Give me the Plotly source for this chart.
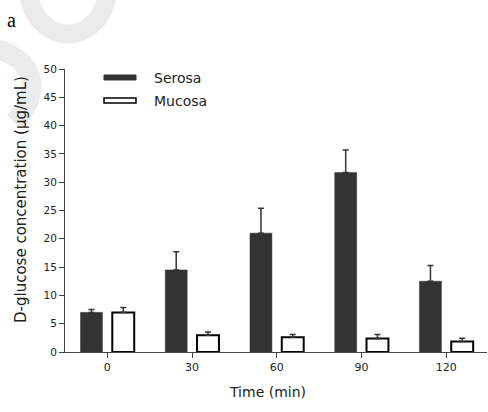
import plotly.graph_objects as go

categories = ["0", "30", "60", "90", "120"]
serosa = [7.0, 14.5, 21.0, 31.7, 12.5]
serosa_err = [0.5, 3.2, 4.4, 4.0, 2.8]
mucosa = [7.0, 2.95, 2.6, 2.4, 1.85]
mucosa_err = [0.85, 0.6, 0.5, 0.7, 0.6]
zeros = [0, 0, 0, 0, 0]

FONT = "DejaVu Sans"
DARK = "#333333"

fig = go.Figure()
fig.add_trace(go.Bar(
    x=categories, y=serosa, name="Serosa",
    marker=dict(color=DARK, line=dict(color=DARK, width=0.5)),
    error_y=dict(type="data", symmetric=False, array=serosa_err, arrayminus=zeros,
                 color=DARK, thickness=1.5, width=3),
    showlegend=False,
))
fig.add_trace(go.Bar(
    x=categories, y=mucosa, name="Mucosa",
    marker=dict(color="white", line=dict(color="black", width=2)),
    error_y=dict(type="data", symmetric=False, array=mucosa_err, arrayminus=zeros,
                 color=DARK, thickness=1.5, width=3),
    showlegend=False,
))

L, R, T, B = 65, 1, 69, 60
W, H = 488, 412
pw, ph = W - L - R, H - T - B

def px(x):
    return (x - L) / pw

def py(y):
    return (H - B - y) / ph

WM = "#ebebeb"
shapes = [
    # faint watermark strokes
    dict(type="path", xref="paper", yref="paper", layer="below",
         path=f"M {px(28)},{py(-8)} C {px(36)},{py(48)} {px(100)},{py(48)} {px(108)},{py(-8)}",
         line=dict(color=WM, width=19)),
    dict(type="path", xref="paper", yref="paper", layer="below",
         path=f"M {px(-8)},{py(48)} C {px(38)},{py(58)} {px(42)},{py(95)} {px(14)},{py(122)}",
         line=dict(color=WM, width=20)),
    # legend swatches
    dict(type="rect", xref="paper", yref="paper",
         x0=px(104), x1=px(136), y0=py(80), y1=py(75),
         fillcolor=DARK, line=dict(color=DARK, width=1)),
    dict(type="rect", xref="paper", yref="paper",
         x0=px(104), x1=px(136), y0=py(103), y1=py(98),
         fillcolor="white", line=dict(color="black", width=1.5)),
]

annotations = [
    dict(text="Serosa", xref="paper", yref="paper", x=px(152), y=py(78),
         xanchor="left", yanchor="middle", showarrow=False,
         font=dict(family=FONT, size=14, color="#222")),
    dict(text="Mucosa", xref="paper", yref="paper", x=px(152), y=py(101),
         xanchor="left", yanchor="middle", showarrow=False,
         font=dict(family=FONT, size=14, color="#222")),
    dict(text="Time (min)", xref="paper", yref="paper", x=px(267), y=py(392),
         xanchor="center", yanchor="middle", showarrow=False,
         font=dict(family=FONT, size=14, color="#222")),
    dict(text="D-glucose concentration (μg/mL)", xref="paper", yref="paper",
         x=px(21), y=py(200), textangle=-90,
         xanchor="center", yanchor="middle", showarrow=False,
         font=dict(family=FONT, size=15, color="#222")),
    dict(text="a", xref="paper", yref="paper", x=px(11), y=py(20),
         xanchor="center", yanchor="middle", showarrow=False,
         font=dict(family="Liberation Serif", size=20, color="black")),
]

fig.update_layout(
    width=W, height=H,
    margin=dict(l=L, r=R, t=T, b=B, pad=0),
    paper_bgcolor="white", plot_bgcolor="white",
    barmode="group", bargap=0.25, bargroupgap=0.31,
    shapes=shapes, annotations=annotations,
    font=dict(family=FONT, size=11, color="#222"),
)
fig.update_xaxes(
    type="category", range=[-0.5, 4.48],
    showline=True, linecolor="#444", linewidth=1,
    ticks="outside", ticklen=5, tickcolor="#444", tickwidth=1,
    showgrid=False, zeroline=False,
    tickfont=dict(family=FONT, size=11, color="#222"),
)
fig.update_yaxes(
    range=[0, 50], tickvals=[0, 5, 10, 15, 20, 25, 30, 35, 40, 45, 50],
    showline=True, linecolor="#444", linewidth=1,
    ticks="outside", ticklen=5, tickcolor="#444", tickwidth=1,
    showgrid=False, zeroline=False,
    tickfont=dict(family=FONT, size=10.5, color="#222"),
)

fig.write_html(
    "out.html",
    config={"displayModeBar": False},
    post_script="document.body.style.margin='0px';document.body.style.padding='0px';",
)
